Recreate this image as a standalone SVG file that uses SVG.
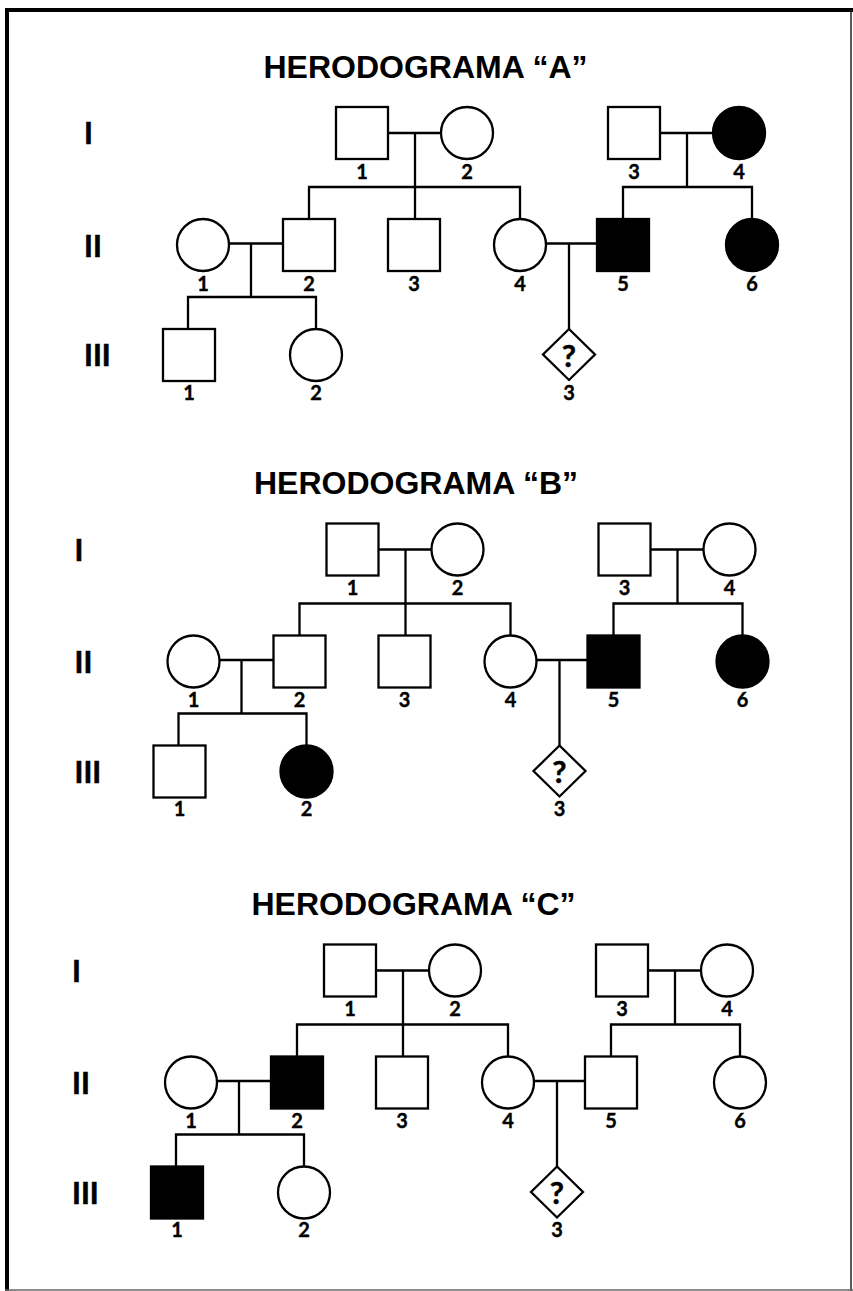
<svg xmlns="http://www.w3.org/2000/svg" xmlns:xlink="http://www.w3.org/1999/xlink" width="853" height="1291" viewBox="0 0 853 1291">
<style>
.o{fill:#fff;stroke:#000;stroke-width:2.3}
.f{fill:#000;stroke:#000;stroke-width:2.3}
.ln{fill:none;stroke:#000;stroke-width:2.3}
.lbl{font-family:Lato,"Liberation Sans",sans-serif;font-weight:700;font-size:20px;text-anchor:middle;fill:#000;stroke:#000;stroke-width:0.4}
.q{font-family:Lato,"Liberation Sans",sans-serif;font-weight:700;font-size:31px;text-anchor:middle;fill:#000;stroke:#000;stroke-width:0.5}
.gen{font-family:Lato,"Liberation Sans",sans-serif;font-weight:700;font-size:30px;fill:#000;stroke:#000;stroke-width:0.6}
.title{font-family:"Liberation Sans",Arial,sans-serif;font-weight:700;font-size:32px;text-anchor:middle;fill:#000}
</style>
<defs>
<path id="conn" d="M388,133H441M415,133V219M309,219V187H520V219M660,133H713M687,133V187M623,219V187H752V219M229,243.5H283M251,243.5V297M188,329V297H316V329M546,243.5H597M569,243.5V329"/>
</defs>
<rect x="0" y="0" width="853" height="1291" fill="#fff"/>
<g id="border">
<line x1="5" y1="10" x2="853" y2="10" stroke="#000" stroke-width="4"/>
<line x1="7" y1="8" x2="7" y2="1291" stroke="#000" stroke-width="4"/>
<line x1="851" y1="10" x2="851" y2="1291" stroke="#222" stroke-width="1.5"/>
<line x1="5" y1="1290" x2="853" y2="1290" stroke="#666" stroke-width="1.5"/>
</g>

<!-- Pedigree A -->
<g id="pedigreeA">
<text class="title" x="425.5" y="77.5">HERODOGRAMA “A”</text>
<text class="gen" x="84" y="144">I</text>
<text class="gen" x="84" y="256.5">II</text>
<text class="gen" x="84" y="366">III</text>
<g id="A-connectors" class="ln"><use xlink:href="#conn"/></g>
<g id="A-I-1"><rect class="o" x="336" y="107" width="52" height="52"/><text class="lbl" x="362" y="178.5">1</text></g>
<g id="A-I-2"><circle class="o" cx="467" cy="133" r="26"/><text class="lbl" x="467" y="178.5">2</text></g>
<g id="A-I-3"><rect class="o" x="608" y="107" width="52" height="52"/><text class="lbl" x="634" y="178.5">3</text></g>
<g id="A-I-4"><circle class="f" cx="739" cy="133" r="26"/><text class="lbl" x="739" y="178.5">4</text></g>
<g id="A-II-1"><circle class="o" cx="203" cy="245" r="26"/><text class="lbl" x="203" y="290.5">1</text></g>
<g id="A-II-2"><rect class="o" x="283" y="219" width="52" height="52"/><text class="lbl" x="309" y="290.5">2</text></g>
<g id="A-II-3"><rect class="o" x="388" y="219" width="52" height="52"/><text class="lbl" x="414" y="290.5">3</text></g>
<g id="A-II-4"><circle class="o" cx="520" cy="245" r="26"/><text class="lbl" x="520" y="290.5">4</text></g>
<g id="A-II-5"><rect class="f" x="597" y="219" width="52" height="52"/><text class="lbl" x="623" y="290.5">5</text></g>
<g id="A-II-6"><circle class="f" cx="752" cy="245" r="26"/><text class="lbl" x="752" y="290.5">6</text></g>
<g id="A-III-1"><rect class="o" x="163" y="329" width="52" height="52"/><text class="lbl" x="189" y="399.5">1</text></g>
<g id="A-III-2"><circle class="o" cx="316" cy="355" r="26"/><text class="lbl" x="316" y="399.5">2</text></g>
<g id="A-III-3"><polygon class="o" points="569,329 595,354.5 569,380 543,354.5"/><text class="q" x="569" y="366.5">?</text><text class="lbl" x="569" y="399.5">3</text></g>
</g>

<!-- Pedigree B -->
<g id="pedigreeB" transform="translate(-9.5,416.5)">
<text class="title" x="425.5" y="77.5">HERODOGRAMA “B”</text>
<text class="gen" x="84" y="144">I</text>
<text class="gen" x="84" y="256.5">II</text>
<text class="gen" x="84" y="366">III</text>
<g id="B-connectors" class="ln"><use xlink:href="#conn"/></g>
<g id="B-I-1"><rect class="o" x="336" y="107" width="52" height="52"/><text class="lbl" x="362" y="178.5">1</text></g>
<g id="B-I-2"><circle class="o" cx="467" cy="133" r="26"/><text class="lbl" x="467" y="178.5">2</text></g>
<g id="B-I-3"><rect class="o" x="608" y="107" width="52" height="52"/><text class="lbl" x="634" y="178.5">3</text></g>
<g id="B-I-4"><circle class="o" cx="739" cy="133" r="26"/><text class="lbl" x="739" y="178.5">4</text></g>
<g id="B-II-1"><circle class="o" cx="203" cy="245" r="26"/><text class="lbl" x="203" y="290.5">1</text></g>
<g id="B-II-2"><rect class="o" x="283" y="219" width="52" height="52"/><text class="lbl" x="309" y="290.5">2</text></g>
<g id="B-II-3"><rect class="o" x="388" y="219" width="52" height="52"/><text class="lbl" x="414" y="290.5">3</text></g>
<g id="B-II-4"><circle class="o" cx="520" cy="245" r="26"/><text class="lbl" x="520" y="290.5">4</text></g>
<g id="B-II-5"><rect class="f" x="597" y="219" width="52" height="52"/><text class="lbl" x="623" y="290.5">5</text></g>
<g id="B-II-6"><circle class="f" cx="752" cy="245" r="26"/><text class="lbl" x="752" y="290.5">6</text></g>
<g id="B-III-1"><rect class="o" x="163" y="329" width="52" height="52"/><text class="lbl" x="189" y="399.5">1</text></g>
<g id="B-III-2"><circle class="f" cx="316" cy="355" r="26"/><text class="lbl" x="316" y="399.5">2</text></g>
<g id="B-III-3"><polygon class="o" points="569,329 595,354.5 569,380 543,354.5"/><text class="q" x="569" y="366.5">?</text><text class="lbl" x="569" y="399.5">3</text></g>
</g>

<!-- Pedigree C -->
<g id="pedigreeC" transform="translate(-12,837.5)">
<text class="title" x="425.5" y="77.5">HERODOGRAMA “C”</text>
<text class="gen" x="84" y="144">I</text>
<text class="gen" x="84" y="256.5">II</text>
<text class="gen" x="84" y="366">III</text>
<g id="C-connectors" class="ln"><use xlink:href="#conn"/></g>
<g id="C-I-1"><rect class="o" x="336" y="107" width="52" height="52"/><text class="lbl" x="362" y="178.5">1</text></g>
<g id="C-I-2"><circle class="o" cx="467" cy="133" r="26"/><text class="lbl" x="467" y="178.5">2</text></g>
<g id="C-I-3"><rect class="o" x="608" y="107" width="52" height="52"/><text class="lbl" x="634" y="178.5">3</text></g>
<g id="C-I-4"><circle class="o" cx="739" cy="133" r="26"/><text class="lbl" x="739" y="178.5">4</text></g>
<g id="C-II-1"><circle class="o" cx="203" cy="245" r="26"/><text class="lbl" x="203" y="290.5">1</text></g>
<g id="C-II-2"><rect class="f" x="283" y="219" width="52" height="52"/><text class="lbl" x="309" y="290.5">2</text></g>
<g id="C-II-3"><rect class="o" x="388" y="219" width="52" height="52"/><text class="lbl" x="414" y="290.5">3</text></g>
<g id="C-II-4"><circle class="o" cx="520" cy="245" r="26"/><text class="lbl" x="520" y="290.5">4</text></g>
<g id="C-II-5"><rect class="o" x="597" y="219" width="52" height="52"/><text class="lbl" x="623" y="290.5">5</text></g>
<g id="C-II-6"><circle class="o" cx="752" cy="245" r="26"/><text class="lbl" x="752" y="290.5">6</text></g>
<g id="C-III-1"><rect class="f" x="163" y="329" width="52" height="52"/><text class="lbl" x="189" y="399.5">1</text></g>
<g id="C-III-2"><circle class="o" cx="316" cy="355" r="26"/><text class="lbl" x="316" y="399.5">2</text></g>
<g id="C-III-3"><polygon class="o" points="569,329 595,354.5 569,380 543,354.5"/><text class="q" x="569" y="366.5">?</text><text class="lbl" x="569" y="399.5">3</text></g>
</g>
</svg>
